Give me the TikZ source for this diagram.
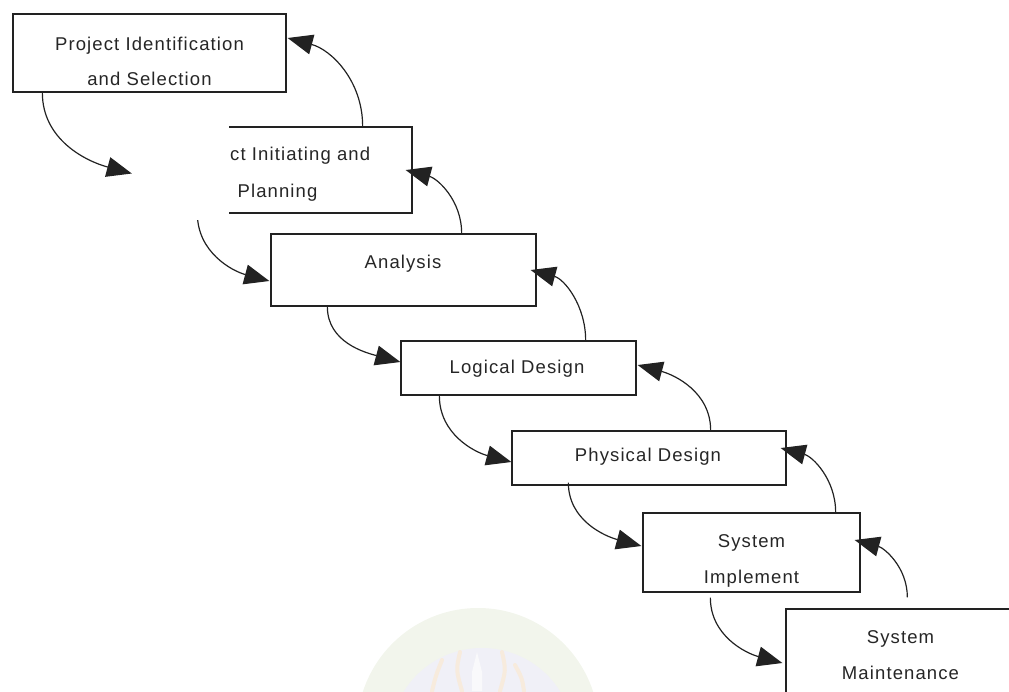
\documentclass[tikz,border=0pt]{standalone}
\usepackage{fontspec}
\newfontfamily\diafont{Liberation Sans}[LetterSpace=6]
\usetikzlibrary{arrows.meta}
\definecolor{ink}{HTML}{222222}
\definecolor{txt}{HTML}{262626}
\definecolor{sealgreen}{HTML}{F2F5EC}
\definecolor{sealblue}{HTML}{F0F0F7}
\definecolor{sealorange}{HTML}{F7EBDD}
\definecolor{sealwhite}{HTML}{F9F9FB}

\begin{document}
\begin{tikzpicture}[x=1pt,y=-1pt,
  stage/.style={draw=ink, line width=1.3pt, fill=white, rectangle, inner sep=0pt},
  lbl/.style={font=\diafont\fontsize{18.5}{22}\selectfont, text=txt, inner sep=0pt, anchor=base},
  flow/.style={draw=ink, line width=1.2pt, -{Triangle[length=25pt,width=20pt]}},
  fwd/.style={flow, out=-90, in=165},
  back/.style={flow, out=90, in=-15}]
\useasboundingbox (0,0) rectangle (1009,691);
\clip (0,0) rectangle (1009,691);

% faint seal in the background
\fill[sealgreen] (478,729) circle (121);
\fill[sealblue] (482,740) circle (92);
\begin{scope}[sealorange, line width=4pt, line cap=round]
  \draw (432,691) .. controls (436,675) .. (442,660);
  \draw (462,691) .. controls (456,670) .. (460,652);
  \draw (500,691) .. controls (506,670) .. (502,652);
  \draw (524,691) .. controls (522,678) .. (515,665);
\end{scope}
\fill[sealwhite] (472,691) -- (472,672) -- (475,660) -- (477,652) -- (479,660) -- (482,672) -- (482,691) -- cycle;

% stages
\node[stage, minimum width=273pt, minimum height=78pt] (p1) at (149.5,53) {};
\node[stage, minimum width=272pt, minimum height=86pt] (p2) at (276,170) {};
\node[stage, minimum width=265pt, minimum height=72pt] (p3) at (403.5,270) {};
\node[stage, minimum width=235pt, minimum height=54pt] (p4) at (518.5,368) {};
\node[stage, minimum width=274pt, minimum height=54pt] (p5) at (649,458) {};
\node[stage, minimum width=217pt, minimum height=79pt] (p6) at (751.5,552.5) {};
\node[stage, minimum width=229pt, minimum height=92pt] (p7) at (900.5,655) {};

% forward flow
\draw[fwd] ([xshift=58pt]p2.south west) to ([xshift=-1pt,yshift=-11pt]p3.west);
\draw[fwd] ([xshift=57pt]p3.south west) to ([yshift=6pt]p4.west);
\draw[fwd] ([xshift=39pt]p4.south west) to ([yshift=-4pt]p5.west);
\draw[fwd] ([xshift=57pt,yshift=3pt]p5.south west) to ([xshift=-1pt,yshift=6.5pt]p6.west);
\draw[fwd] ([xshift=68pt,yshift=-5pt]p6.south west) to ([xshift=-3pt,yshift=-8pt]p7.west);

% feedback flow
\draw[back] ([xshift=-50pt]p2.north east) to ([xshift=1pt,yshift=15pt]p1.east);
\draw[back] ([xshift=-75pt]p3.north east) to ([xshift=-7pt]p2.east);
\draw[back] ([xshift=-51pt]p4.north east) to ([xshift=-6pt]p3.east);
\draw[back] ([xshift=-76pt]p5.north east) to ([xshift=1pt,yshift=3pt]p4.east);
\draw[back] ([xshift=-25pt]p6.north east) to ([xshift=-6pt,yshift=10pt]p5.east);
\draw[back] ([xshift=122pt,yshift=11pt]p7.north west) to ([xshift=-6pt,yshift=12.5pt]p6.east);

% blank patch over the left part of the second stage
\node[fill=white, inner sep=0pt, minimum width=97pt, minimum height=103pt] (mask) at (180.5,168.5) {};
\draw[fwd] ([xshift=30pt]p1.south west) to ([yshift=-5pt]mask.west);

% labels
\node[lbl] (p1a) at (149.5,50) {Project Identification};
\node[lbl] (p1b) at (149.5,85) {and Selection};
\node[lbl, anchor=base west] (p2a) at (230,160) {ct Initiating and};
\node[lbl] (p2b) at (277.5,197) {Planning};
\node[lbl] (p3a) at (403,268) {Analysis};
\node[lbl] (p4a) at (517,373) {Logical Design};
\node[lbl] (p5a) at (648,461.5) {Physical Design};
\node[lbl] (p6a) at (751.5,547) {System};
\node[lbl] (p6b) at (751.5,583) {Implement};
\node[lbl] (p7a) at (900.5,643.5) {System};
\node[lbl] (p7b) at (900.5,679.5) {Maintenance};
\end{tikzpicture}
\end{document}
